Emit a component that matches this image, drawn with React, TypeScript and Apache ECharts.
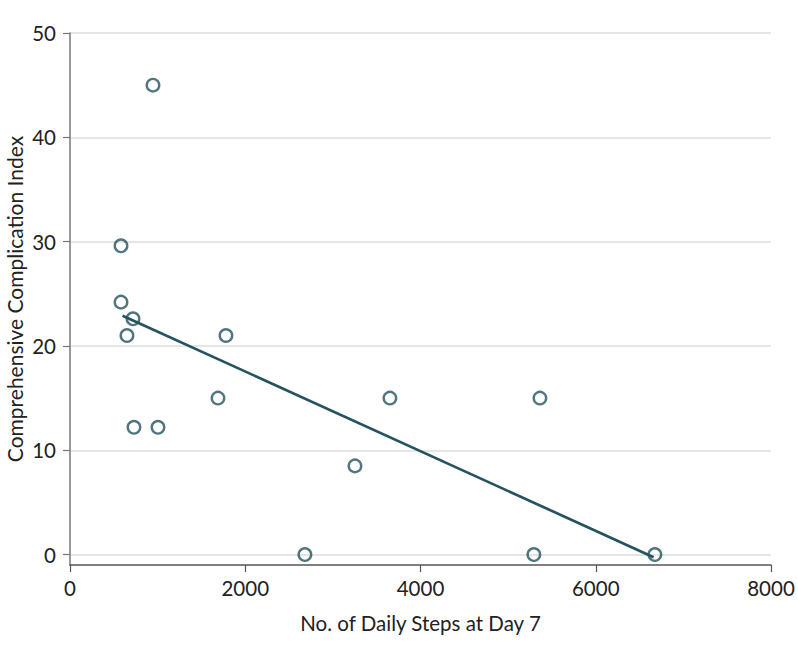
import React, { useEffect, useRef } from "react";
import * as echarts from "echarts";

const stepsX: number[] = [947, 582, 582, 719, 650, 1780, 1689, 730, 1004, 3252, 3651, 5363, 2681, 5294, 6675];
const cciY: number[] = [45.0, 29.6, 24.2, 22.6, 21.0, 21.0, 15.0, 12.2, 12.2, 8.5, 15.0, 15.0, 0, 0, 0];
const fitX: number[] = [600, 6660];
const fitY: number[] = [22.9, -0.25];
const yTicks: number[] = [0, 10, 20, 30, 40, 50];
const xTicks: number[] = [0, 2000, 4000, 6000, 8000];
const yTitle = "Comprehensive Complication Index";
const xTitle = "No. of Daily Steps at Day 7";

const MAIN = "#25535f";
const FONT = "Lato, 'Open Sans', sans-serif";

export default function App() {
  const ref = useRef<HTMLDivElement>(null);
  useEffect(() => {
    document.body.style.margin = "0";
    if (!ref.current) return;
    const chart = echarts.init(ref.current, undefined, { renderer: "svg" });
    const points = stepsX.map((x, i) => [x, cciY[i]]);
    const fit = fitX.map((x, i) => [x, fitY[i]]);
    chart.setOption({
      animation: false,
      backgroundColor: "#ffffff",
      grid: { left: 70, right: 27, top: 33, bottom: 89, outerBoundsMode: "none", containLabel: false },
      graphic: [
        {
          type: "text",
          x: 14,
          y: 299,
          rotation: Math.PI / 2,
          style: {
            text: yTitle,
            align: "center",
            verticalAlign: "middle",
            fontFamily: FONT,
            fontSize: 21,
            fill: "#222",
          },
        },
      ],
      xAxis: {
        type: "value",
        min: 0,
        max: 8000,
        interval: 2000,
        name: xTitle,
        nameLocation: "middle",
        nameGap: 47,
        nameTextStyle: { fontFamily: FONT, fontSize: 20.5, color: "#222" },
        axisLine: { show: true, onZero: false, lineStyle: { color: "#555", width: 1.5 } },
        axisTick: { show: true, length: 7, lineStyle: { color: "#555", width: 1.2 }, customValues: xTicks },
        axisLabel: {
          margin: 12,
          fontFamily: FONT,
          fontSize: 20.5,
          color: "#222",
          customValues: xTicks,
          formatter: (v: number) => String(v),
        },
        splitLine: { show: false },
      },
      yAxis: {
        type: "value",
        min: -1,
        max: 50,
        axisLine: { show: true, onZero: false, lineStyle: { color: "#777", width: 1.5 } },
        axisTick: { show: true, length: 7, lineStyle: { color: "#777", width: 1.2 }, customValues: yTicks },
        axisLabel: {
          margin: 14,
          fontFamily: FONT,
          fontSize: 20.5,
          color: "#222",
          customValues: yTicks,
          formatter: (v: number) => String(v),
        },
        splitLine: { show: true, lineStyle: { color: "#dcdcdc", width: 1.5 } },
      },
      series: [
        {
          type: "line",
          data: fit,
          symbol: "none",
          lineStyle: { color: MAIN, width: 2.7 },
          z: 2,
        },
        {
          type: "scatter",
          data: points,
          symbol: "circle",
          symbolSize: 12.5,
          itemStyle: { color: "rgba(255,255,255,0)", borderColor: MAIN, borderWidth: 2.4 },
          z: 3,
        },
      ],
    });
    return () => chart.dispose();
  }, []);
  return <div ref={ref} style={{ width: 798, height: 654 }} />;
}
